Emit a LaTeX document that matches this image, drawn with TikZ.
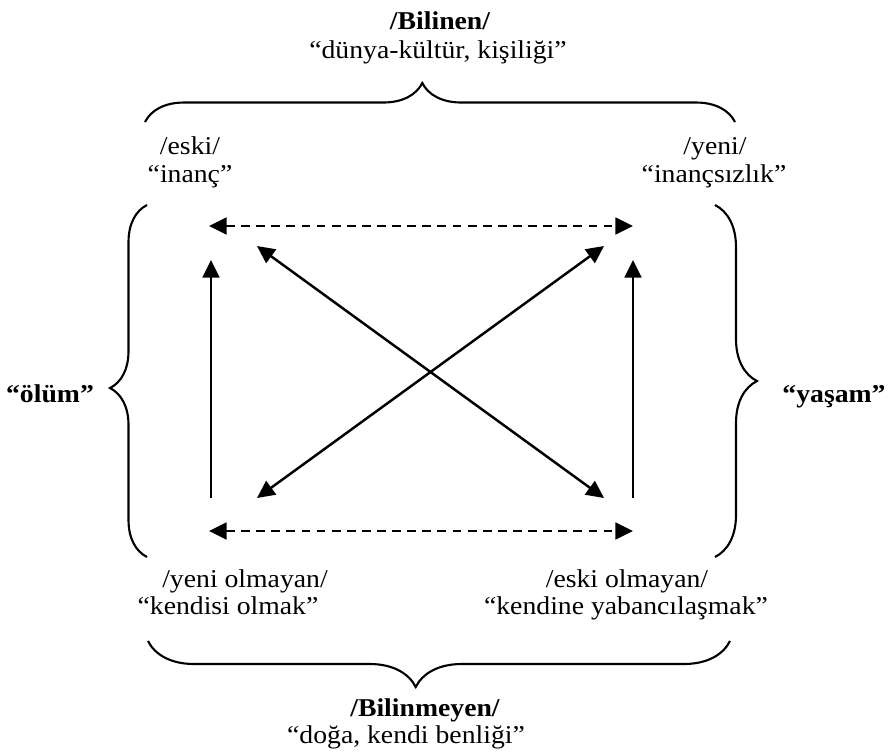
\documentclass[tikz,border=0pt]{standalone}
\usepackage{fontspec}
\setmainfont{Liberation Serif}[FakeStretch=1.08]
\usetikzlibrary{arrows.meta,decorations.pathreplacing}

\tikzset{
  lbl/.style={anchor=base, inner sep=0pt, font=\fontsize{14.6}{16}\selectfont},
  blbl/.style={lbl, font=\fontsize{14.6}{16}\selectfont\bfseries},
  arr/.style={line width=1.4pt, -{Triangle[length=10pt,width=9.5pt]}},
  darr/.style={line width=1.4pt, {Triangle[length=10pt,width=9.5pt]}-{Triangle[length=10pt,width=9.5pt]}},
  dsh/.style={darr, dash pattern=on 5pt off 3.6pt},
  brc/.style={decorate, line width=1.2pt},
}

\begin{document}
\begin{tikzpicture}[x=0.02cm, y=-0.02cm]
    \useasboundingbox (0,0) rectangle (892,755);

    % labels
    \node[blbl] (bil) at (440,29) {/Bilinen/};
    \node[lbl] (bilq) at (438,58) {“dünya-kültür, kişiliği”};
    \node[lbl] (eski) at (190,154) {/eski/};
    \node[lbl] (eskiq) at (190,182) {“inanç”};
    \node[lbl] (yeni) at (715,154) {/yeni/};
    \node[lbl] (yeniq) at (714,182) {“inançsızlık”};
    \node[blbl] (olum) at (50,402) {“ölüm”};
    \node[blbl] (yasam) at (834,402) {“yaşam”};
    \node[lbl] (ynol) at (245,587) {/yeni olmayan/};
    \node[lbl] (ynolq) at (228,614) {“kendisi olmak”};
    \node[lbl] (esol) at (627,587) {/eski olmayan/};
    \node[lbl] (esolq) at (626,614) {“kendine yabancılaşmak”};
    \node[blbl] (bilm) at (425,716) {/Bilinmeyen/};
    \node[lbl] (bilmq) at (406,743) {“doğa, kendi benliği”};

    % braces
    \draw[brc, decoration={brace, amplitude=0.78cm, aspect=0.47}] (145,122) -- (735,122);
    \draw[brc, decoration={brace, amplitude=0.74cm, aspect=0.48}] (147,557) -- (147,205);
    \draw[brc, decoration={brace, amplitude=0.84cm, aspect=0.5}] (715,205) -- (715,557);
    \draw[brc, decoration={brace, amplitude=0.92cm, aspect=0.54}] (730,641) -- (148,641);

    % corners
    \coordinate (tl) at (209,226);
    \coordinate (tr) at (633,226);
    \coordinate (bl) at (209,531);
    \coordinate (br) at (633,531);
    \coordinate (l0) at (211,498);
    \coordinate (l1) at (211,260);
    \coordinate (r0) at (633,498);
    \coordinate (r1) at (633,260);
    \coordinate (d1) at (257,246);
    \coordinate (d2) at (604,498);
    \coordinate (d3) at (257,498);
    \coordinate (d4) at (604,246);

    \draw[dsh] (tl) -- (tr);
    \draw[dsh] (bl) -- (br);
    \draw[arr] (l0) -- (l1);
    \draw[arr] (r0) -- (r1);
    \draw[darr] (d1) -- (d2);
    \draw[darr] (d3) -- (d4);
\end{tikzpicture}
\end{document}
